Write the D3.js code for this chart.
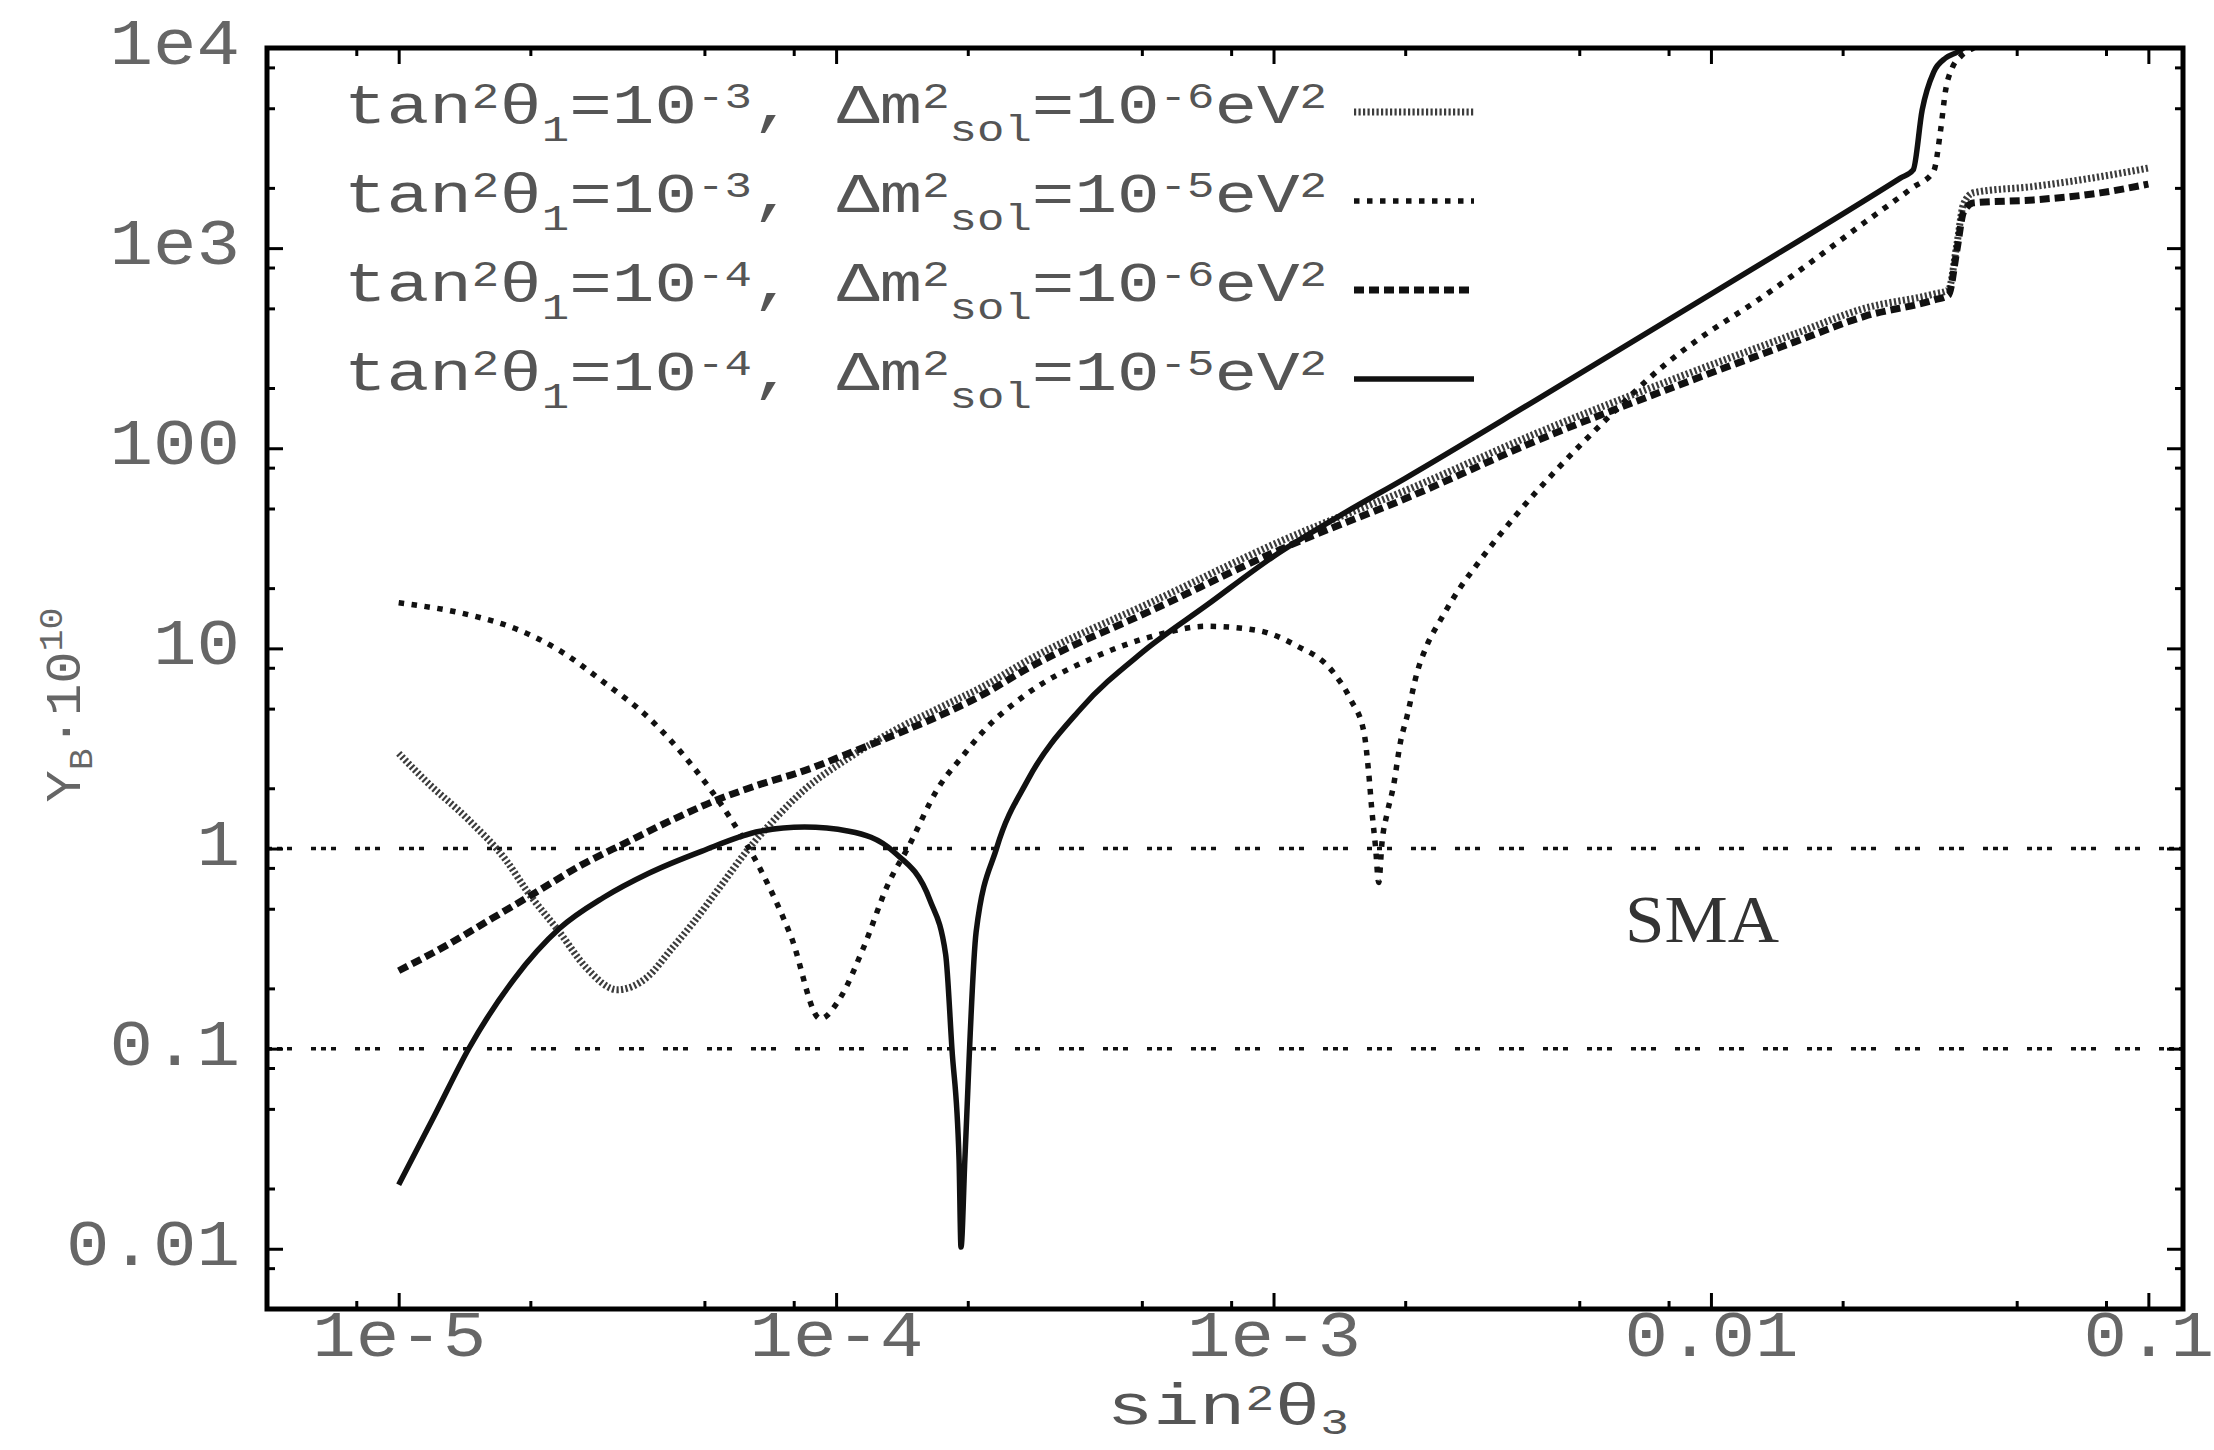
<!DOCTYPE html>
<html>
<head>
<meta charset="utf-8">
<script src="https://cdnjs.cloudflare.com/ajax/libs/d3/7.8.5/d3.min.js"></script>
<style>
    body { margin: 0; background: #fff; }
    svg { display: block; }
</style>
</head>
<body>
<script>
// Y_B * 10^10 against sin^2(theta3): [sin^2 theta3, Y_B * 1e10]

// tan^2 th1 = 1e-3, dm2_sol = 1e-6 eV^2
const curveA = [
    [1.00e-5, 2.99], [1.15e-5, 2.19], [1.45e-5, 1.38], [1.76e-5, 0.873], [1.97e-5, 0.608],
    [2.33e-5, 0.383], [2.68e-5, 0.255], [3.16e-5, 0.197], [3.72e-5, 0.230], [4.19e-5, 0.312],
    [4.71e-5, 0.425], [5.42e-5, 0.640], [6.24e-5, 0.968], [7.19e-5, 1.38], [8.47e-5, 1.97],
    [1.07e-4, 2.84], [1.35e-4, 3.86], [1.71e-4, 5.01], [2.17e-4, 6.46], [2.74e-4, 8.71],
    [5.37e-4, 17.4], [1.05e-3, 34.7], [2.06e-3, 63.1], [4.03e-3, 120], [7.87e-3, 214],
    [1.55e-2, 372], [2.25e-2, 501], [3.23e-2, 589], [3.49e-2, 617], [3.65e-2, 1047],
    [3.78e-2, 1660], [3.98e-2, 1890], [5.46e-2, 2032], [7.76e-2, 2275], [0.1, 2512]
];

// tan^2 th1 = 1e-3, dm2_sol = 1e-5 eV^2
const curveB = [
    [1.00e-5, 16.9], [1.45e-5, 14.7], [1.84e-5, 12.6], [2.33e-5, 9.77], [2.94e-5, 6.79],
    [3.72e-5, 4.52], [4.71e-5, 2.56], [5.68e-5, 1.46], [6.70e-5, 0.794], [7.89e-5, 0.363],
    [9.20e-5, 0.141], [1.02e-4, 0.178], [1.15e-4, 0.312], [1.32e-4, 0.676], [1.46e-4, 1.01],
    [1.71e-4, 2.00], [1.96e-4, 2.95], [2.17e-4, 3.85], [2.72e-4, 5.89], [3.84e-4, 8.91],
    [5.37e-4, 11.6], [7.03e-4, 12.9], [9.18e-4, 12.3], [1.12e-3, 10.4], [1.37e-3, 7.59],
    [1.50e-3, 5.56], [1.61e-3, 3.80], [1.65e-3, 2.40], [1.68e-3, 1.51], [1.71e-3, 1.03],
    [1.74e-3, 0.676], [1.77e-3, 1.07], [1.82e-3, 1.51], [1.88e-3, 2.05], [1.95e-3, 3.39],
    [2.02e-3, 4.59], [2.13e-3, 7.59], [2.24e-3, 10.3], [2.41e-3, 13.9], [2.63e-3, 19.1],
    [2.92e-3, 26.3], [3.55e-3, 45.2], [4.47e-3, 79.4], [5.62e-3, 132], [7.87e-3, 263],
    [9.44e-3, 355], [1.26e-2, 537], [1.53e-2, 724], [2.25e-2, 1349], [2.88e-2, 1995],
    [3.23e-2, 2427], [3.35e-2, 3890], [3.44e-2, 6166], [3.56e-2, 7943], [3.73e-2, 9120],
    [3.98e-2, 10000], [4.27e-2, 10700]
];

// tan^2 th1 = 1e-4, dm2_sol = 1e-6 eV^2
const curveC = [
    [1.00e-5, 0.245], [1.29e-5, 0.329], [1.64e-5, 0.449], [2.07e-5, 0.608], [2.62e-5, 0.828],
    [3.31e-5, 1.07], [4.19e-5, 1.38], [5.31e-5, 1.74], [6.70e-5, 2.09], [8.47e-5, 2.45],
    [1.07e-4, 2.99], [1.35e-4, 3.67], [1.71e-4, 4.57], [2.17e-4, 5.89], [2.74e-4, 7.94],
    [5.37e-4, 15.8], [1.05e-3, 31.6], [2.06e-3, 57.5], [4.03e-3, 110], [7.87e-3, 195],
    [1.55e-2, 339], [2.25e-2, 457], [3.23e-2, 550], [3.49e-2, 582], [3.65e-2, 977],
    [3.78e-2, 1514], [3.98e-2, 1683], [5.46e-2, 1742], [7.76e-2, 1888], [0.1, 2089]
];

// tan^2 th1 = 1e-4, dm2_sol = 1e-5 eV^2
const curveD = [
    [1.00e-5, 0.0209], [1.21e-5, 0.0467], [1.45e-5, 0.101], [1.84e-5, 0.224], [2.33e-5, 0.398],
    [2.94e-5, 0.569], [3.72e-5, 0.750], [4.92e-5, 0.968], [6.70e-5, 1.22], [8.47e-5, 1.28],
    [1.07e-4, 1.22], [1.35e-4, 0.968], [1.64e-4, 0.550], [1.78e-4, 0.296], [1.84e-4, 0.100],
    [1.91e-4, 0.0282], [1.93e-4, 0.0102], [1.97e-4, 0.0282], [2.09e-4, 0.383], [2.33e-4, 1.01],
    [2.74e-4, 2.19], [3.63e-4, 5.01], [5.01e-4, 9.55], [7.08e-4, 16.6], [1.00e-3, 28.8],
    [1.41e-3, 45.7], [2.00e-3, 70.8], [3.98e-3, 174], [1.00e-2, 589], [2.71e-2, 2239],
    [2.90e-2, 2460], [3.04e-2, 4898], [3.23e-2, 7586], [3.44e-2, 8913], [3.66e-2, 9550],
    [3.89e-2, 10470]
];

const refLevels = [0.1, 1];

const xTicks = [1e-5, 1e-4, 1e-3, 0.01, 0.1];
const xTickLabels = ['1e-5', '1e-4', '1e-3', '0.01', '0.1'];
const yTicks = [0.01, 0.1, 1, 10, 100, 1e3, 1e4];
const yTickLabels = ['0.01', '0.1', '1', '10', '100', '1e3', '1e4'];
const minorMantissas = [2, 5, 8];

const legendTan = ['-3', '-3', '-4', '-4'];
const legendSol = ['-6', '-5', '-6', '-5'];

const W = 2214, H = 1450;
const frame = { left: 267, right: 2183, top: 48, bottom: 1309 };
const majorLen = 16, minorLen = 8;

let x = d3.scaleLog().domain([5e-6, 0.12]).range([frame.left, frame.right]),
    y = d3.scaleLog().domain([0.005, 1e4]).range([frame.bottom, frame.top]);

let svg = d3.select('body').append('svg').attr('width', W).attr('height', H);
svg.append('rect').attr('width', W).attr('height', H).attr('fill', '#fff');

svg.append('clipPath').attr('id', 'plot-clip')
   .append('rect').attr('x', frame.left).attr('y', frame.top)
                  .attr('width', frame.right - frame.left).attr('height', frame.bottom - frame.top);

const minorTicks = scale => {
    const [lo, hi] = scale.domain();
    const out = [];
    for (let k = Math.floor(Math.log10(lo)); k <= Math.ceil(Math.log10(hi)); k++) {
        minorMantissas.forEach(m => {
            const v = m * Math.pow(10, k);
            if (v > lo && v < hi) out.push(v);
        });
    }
    return out;
};

const styleTicks = g => {
    g.select('.domain').remove();
    g.selectAll('line').attr('stroke', '#000').attr('stroke-width', 3);
};

const styleLabels = g => g.selectAll('text')
    .attr('font-family', '"Liberation Mono", monospace')
    .attr('font-size', 65)
    .attr('fill', '#666')
    .attr('textLength', function() { return this.textContent.length * 43.5; })
    .attr('lengthAdjust', 'spacingAndGlyphs');

// reference levels
refLevels.forEach(v => {
    svg.append('line')
       .attr('x1', frame.left).attr('x2', frame.right)
       .attr('y1', y(v)).attr('y2', y(v))
       .attr('stroke', '#111').attr('stroke-width', 3.5)
       .attr('stroke-dasharray', '5,5,5,5,5,19');
});

// curves
const series = [
    { data: curveA, width: 7, dash: '2.2,2.3', color: '#3c3c3c' },
    { data: curveB, width: 5.5, dash: '5.5,7.5', color: '#111' },
    { data: curveC, width: 7, dash: '10,5', color: '#111' },
    { data: curveD, width: 5.5, dash: null, color: '#111' }
];

let valueLine = d3.line().x(d => x(d[0])).y(d => y(d[1])).curve(d3.curveMonotoneX);

let plot = svg.append('g').attr('clip-path', 'url(#plot-clip)');
series.forEach(s => {
    plot.append('path')
        .attr('d', valueLine(s.data))
        .attr('fill', 'none')
        .attr('stroke', s.color)
        .attr('stroke-width', s.width)
        .attr('stroke-dasharray', s.dash)
        .attr('stroke-linejoin', 'round');
});

// axes: ticks point inward on all four sides
svg.append('g').attr('transform', `translate(0, ${frame.bottom})`)
   .call(d3.axisBottom(x).tickValues(xTicks).tickFormat((d, i) => xTickLabels[i])
                         .tickSizeInner(-majorLen).tickSizeOuter(0).tickPadding(1))
   .call(styleTicks).call(styleLabels);
svg.append('g').attr('transform', `translate(0, ${frame.bottom})`)
   .call(d3.axisBottom(x).tickValues(minorTicks(x)).tickFormat('').tickSizeInner(-minorLen).tickSizeOuter(0))
   .call(styleTicks);
svg.append('g').attr('transform', `translate(0, ${frame.top})`)
   .call(d3.axisTop(x).tickValues(xTicks).tickFormat('').tickSizeInner(-majorLen).tickSizeOuter(0))
   .call(styleTicks);
svg.append('g').attr('transform', `translate(0, ${frame.top})`)
   .call(d3.axisTop(x).tickValues(minorTicks(x)).tickFormat('').tickSizeInner(-minorLen).tickSizeOuter(0))
   .call(styleTicks);

svg.append('g').attr('transform', `translate(${frame.left}, 0)`)
   .call(d3.axisLeft(y).tickValues(yTicks).tickFormat((d, i) => yTickLabels[i])
                       .tickSizeInner(-majorLen).tickSizeOuter(0).tickPadding(27))
   .call(styleTicks).call(styleLabels)
   .call(g => g.selectAll('text').attr('dy', '0.24em'));
svg.append('g').attr('transform', `translate(${frame.left}, 0)`)
   .call(d3.axisLeft(y).tickValues(minorTicks(y)).tickFormat('').tickSizeInner(-minorLen).tickSizeOuter(0))
   .call(styleTicks);
svg.append('g').attr('transform', `translate(${frame.right}, 0)`)
   .call(d3.axisRight(y).tickValues(yTicks).tickFormat('').tickSizeInner(-majorLen).tickSizeOuter(0))
   .call(styleTicks);
svg.append('g').attr('transform', `translate(${frame.right}, 0)`)
   .call(d3.axisRight(y).tickValues(minorTicks(y)).tickFormat('').tickSizeInner(-minorLen).tickSizeOuter(0))
   .call(styleTicks);

svg.append('rect')
   .attr('x', frame.left).attr('y', frame.top)
   .attr('width', frame.right - frame.left).attr('height', frame.bottom - frame.top)
   .attr('fill', 'none').attr('stroke', '#000').attr('stroke-width', 5);

// text with super/subscripts: parts are [string, 'n' | 'sup' | 'sub']
const richText = (sel, parts, base, small, up, down) => {
    let shift = 0;
    parts.forEach(([str, kind]) => {
        const target = kind === 'sup' ? -up : kind === 'sub' ? down : 0;
        sel.append('tspan')
           .attr('dy', target - shift)
           .attr('font-size', kind === 'n' ? base : small)
           .text(str);
        shift = target;
    });
};

// legend
const legendX = 344, legendBase = 123, legendStep = 89;
legendTan.forEach((t, i) => {
    const by = legendBase + i * legendStep;
    const txt = svg.append('text')
        .attr('x', legendX).attr('y', by)
        .attr('font-family', '"Liberation Mono", monospace')
        .attr('fill', '#555')
        .attr('textLength', 983).attr('lengthAdjust', 'spacingAndGlyphs')
        .style('white-space', 'pre');
    richText(txt, [
        ['tan', 'n'], ['2', 'sup'], ['\u03b8', 'n'], ['1', 'sub'], ['=10', 'n'], [t, 'sup'],
        [', ', 'n'], ['\u0394m', 'n'], ['2', 'sup'], ['sol', 'sub'], ['=10', 'n'],
        [legendSol[i], 'sup'], ['eV', 'n'], ['2', 'sup']
    ], 56, 36, 15, 18);

    const s = series[i];
    svg.append('line')
       .attr('x1', 1354).attr('x2', 1474).attr('y1', by - 11).attr('y2', by - 11)
       .attr('stroke', s.color).attr('stroke-width', s.width)
       .attr('stroke-dasharray', s.dash);
});

// axis titles
const xTitle = svg.append('text')
    .attr('x', 1228).attr('y', 1424).attr('text-anchor', 'middle')
    .attr('font-family', '"Liberation Mono", monospace').attr('fill', '#555')
    .attr('textLength', 242).attr('lengthAdjust', 'spacingAndGlyphs');
richText(xTitle, [['sin', 'n'], ['2', 'sup'], ['\u03b8', 'n'], ['3', 'sub']], 58, 36, 14, 10);

const yTitle = svg.append('text')
    .attr('transform', 'translate(80, 705) rotate(-90)').attr('text-anchor', 'middle')
    .attr('font-family', '"Liberation Mono", monospace').attr('fill', '#666')
    .attr('textLength', 195).attr('lengthAdjust', 'spacingAndGlyphs');
richText(yTitle, [['Y', 'n'], ['B', 'sub'], ['\u00b710', 'n'], ['10', 'sup']], 50, 34, 18, 12);

svg.append('text')
   .attr('x', 1625).attr('y', 942)
   .attr('font-family', '"Liberation Serif", serif').attr('font-size', 68)
   .attr('fill', '#333').attr('textLength', 154).attr('lengthAdjust', 'spacingAndGlyphs')
   .text('SMA');
</script>
</body>
</html>
